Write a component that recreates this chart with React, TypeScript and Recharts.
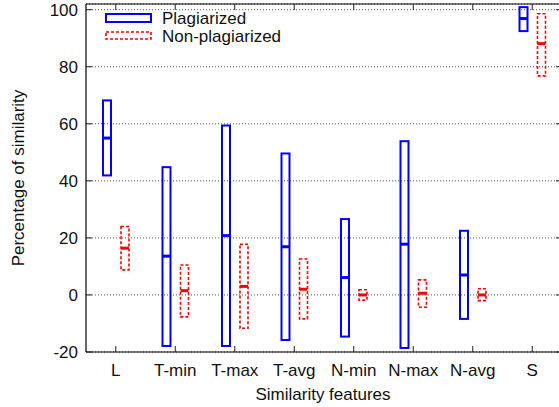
import { ComposedChart, Bar, XAxis, YAxis, CartesianGrid } from 'recharts'

const categories = ['L', 'T-min', 'T-max', 'T-avg', 'N-min', 'N-max', 'N-avg', 'S']
const plagLow = [41.9, -17.9, -17.9, -15.8, -14.6, -18.6, -8.4, 92.5]
const plagMedian = [55.0, 13.6, 20.8, 16.9, 6.1, 17.8, 7.0, 96.9]
const plagHigh = [68.2, 44.8, 59.4, 49.6, 26.6, 53.9, 22.5, 100.9]
const nonLow = [8.8, -7.7, -11.7, -8.4, -1.8, -4.3, -2.0, 76.8]
const nonMedian = [16.4, 1.5, 3.0, 2.0, 0.0, 0.6, 0.0, 88.1]
const nonHigh = [24.0, 10.5, 17.8, 12.6, 1.8, 5.3, 2.2, 98.6]
const yTicks = [-20, 0, 20, 40, 60, 80, 100]

const data = categories.map((name, i) => ({
  name,
  plag: [plagLow[i], plagHigh[i]],
  plagMed: plagMedian[i],
  non: [nonLow[i], nonHigh[i]],
  nonMed: nonMedian[i],
}))

const FONT = '"Liberation Sans", Arial, sans-serif'
const FS = 17

// box with median bar; median pixel derived from the bar's own scaled extent
function makeBox(color: string, dashed: boolean, medKey: 'plagMed' | 'nonMed', rangeKey: 'plag' | 'non') {
  return (props: any) => {
    const { x, y, width, height, payload } = props
    const [lo, hi] = payload[rangeKey]
    const my = y + (height * (hi - payload[medKey])) / (hi - lo)
    return (
      <g>
        <rect
          x={x}
          y={y}
          width={width}
          height={height}
          fill="none"
          stroke={color}
          strokeWidth={dashed ? 1.6 : 2}
          strokeDasharray={dashed ? '3 2' : undefined}
        />
        <line x1={x} x2={x + width} y1={my} y2={my} stroke={color} strokeWidth={3} />
      </g>
    )
  }
}

const BottomTick = (props: any) => {
  const { x, y, payload } = props
  return (
    <g>
      <line x1={x} x2={x} y1={y} y2={y - 6} stroke="#222" />
      <text x={x} y={y + 24} textAnchor="middle" fontSize={FS} fill="#111" fontFamily={FONT}>
        {payload.value}
      </text>
    </g>
  )
}

const LeftTick = (props: any) => {
  const { x, y, payload } = props
  return (
    <g>
      <line x1={x} x2={x + 6} y1={y} y2={y} stroke="#222" />
      <text x={x - 8} y={y} dy="0.36em" textAnchor="end" fontSize={FS} fill="#111" fontFamily={FONT}>
        {payload.value}
      </text>
    </g>
  )
}

const NoTick = () => <g />

export default function App() {
  return (
    <div style={{ position: 'absolute', left: 0, top: 0, width: 559, height: 407, background: '#fff', overflow: 'hidden' }}>
      <ComposedChart
        width={559}
        height={407}
        data={data}
        margin={{ top: 4, right: -3, bottom: 0, left: 0 }}
        barSize={8}
        barGap={10}
      >
        <CartesianGrid horizontal vertical={false} stroke="#555" strokeDasharray="1 2" />
        <XAxis
          dataKey="name"
          height={55}
          tickSize={0}
          tickMargin={0}
          tickLine={false}
          axisLine={{ stroke: '#000', strokeWidth: 1.2 }}
          tick={BottomTick}
          interval={0}
          label={(p: any) => {
            const vb = p.viewBox
            return (
              <text x={323} y={vb.y + 48} textAnchor="middle" fontSize={FS} fill="#111" fontFamily={FONT}>
                Similarity features
              </text>
            )
          }}
        />
        <XAxis xAxisId="top" dataKey="name" orientation="top" mirror tick={NoTick} tickSize={6} interval={0} axisLine={{ stroke: '#000', strokeWidth: 1.2 }} tickLine={{ stroke: '#222' }} />
        <YAxis
          width={86}
          domain={[-20, 102]}
          ticks={yTicks}
          allowDataOverflow
          tickSize={0}
          tickMargin={0}
          tickLine={false}
          axisLine={{ stroke: '#000', strokeWidth: 1.2 }}
          tick={LeftTick}
          label={(p: any) => {
            const vb = p.viewBox
            const cy = vb.y + vb.height / 2
            return (
              <text x={24} y={cy} transform={`rotate(-90 24 ${cy})`} textAnchor="middle" fontSize={FS} fill="#111" fontFamily={FONT}>
                Percentage of similarity
              </text>
            )
          }}
        />
        <YAxis yAxisId="right" orientation="right" mirror domain={[-20, 102]} ticks={yTicks} allowDataOverflow tick={NoTick} tickSize={6} axisLine={{ stroke: '#000', strokeWidth: 1.2 }} tickLine={{ stroke: '#222' }} />
        <Bar dataKey="plag" name="Plagiarized" shape={makeBox('#0000ff', false, 'plagMed', 'plag')} isAnimationActive={false} />
        <Bar dataKey="non" name="Non-plagiarized" shape={makeBox('#ff0000', true, 'nonMed', 'non')} isAnimationActive={false} />
      </ComposedChart>
      <svg width={220} height={40} style={{ position: 'absolute', left: 100, top: 7 }}>
        <rect x={6} y={7} width={45} height={8} fill="none" stroke="#0000ff" strokeWidth={2} />
        <text x={62} y={17} fontSize={FS} fill="#111" fontFamily={FONT}>Plagiarized</text>
        <rect x={6} y={25} width={45} height={7} fill="none" stroke="#ff0000" strokeWidth={1.6} strokeDasharray="3 2" />
        <text x={62} y={35} fontSize={FS} fill="#111" fontFamily={FONT}>Non-plagiarized</text>
      </svg>
    </div>
  )
}
